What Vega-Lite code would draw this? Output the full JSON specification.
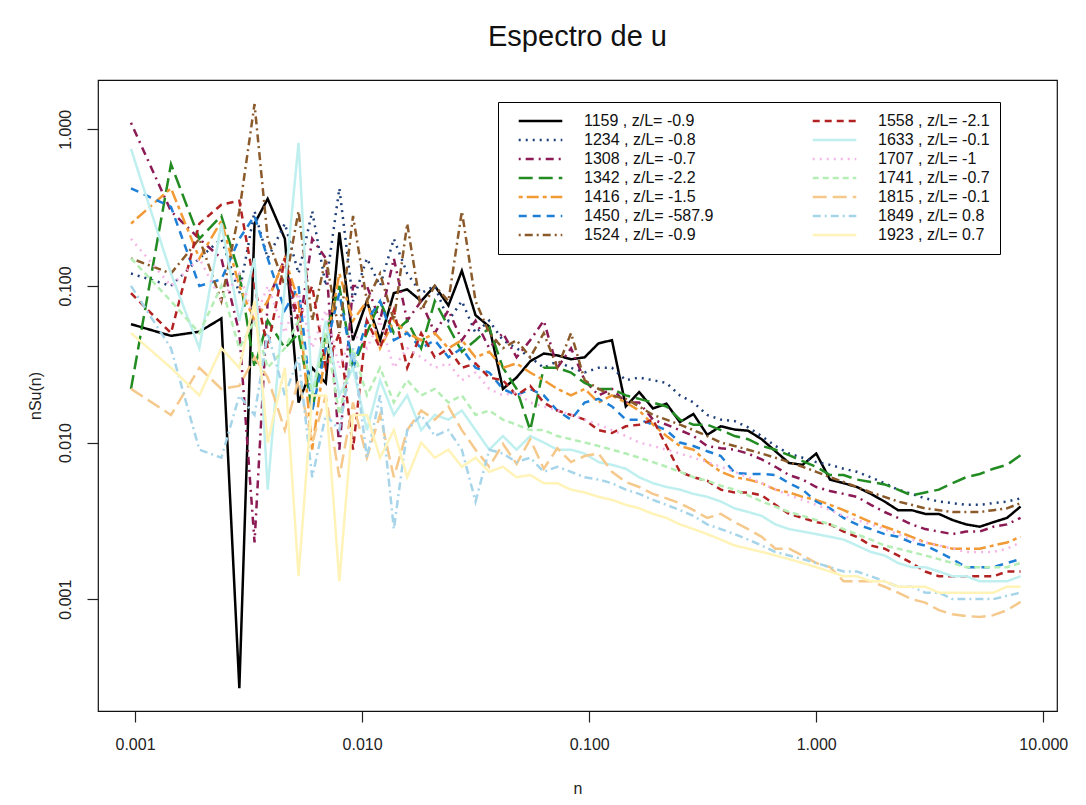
{
"$schema":"https://vega.github.io/schema/vega-lite/v6.json",
"width":959,"height":631,
"autosize":{"type":"none"},
"padding":{"left":98,"top":80,"right":29,"bottom":94},
"background":"white",
"title":{"text":"Espectro de u","fontSize":29,"fontWeight":"normal","font":"Liberation Sans","color":"#111","offset":28,"anchor":"middle"},
"datasets":{"labs":[
{"s":"1159","lab":"1159 , z/L= -0.9"},{"s":"1234","lab":"1234 , z/L= -0.8"},{"s":"1308","lab":"1308 , z/L= -0.7"},{"s":"1342","lab":"1342 , z/L= -2.2"},{"s":"1416","lab":"1416 , z/L= -1.5"},{"s":"1450","lab":"1450 , z/L= -587.9"},{"s":"1524","lab":"1524 , z/L= -0.9"},{"s":"1558","lab":"1558 , z/L= -2.1"},{"s":"1633","lab":"1633 , z/L= -0.1"},{"s":"1707","lab":"1707 , z/L= -1"},{"s":"1741","lab":"1741 , z/L= -0.7"},{"s":"1815","lab":"1815 , z/L= -0.1"},{"s":"1849","lab":"1849 , z/L= 0.8"},{"s":"1923","lab":"1923 , z/L= 0.7"}
]},
"data":{"values":[
{"s":"1159","n":0.00096,"v":0.057},{"s":"1159","n":0.00144,"v":0.048},{"s":"1159","n":0.00192,"v":0.051},{"s":"1159","n":0.0024,"v":0.062},{"s":"1159","n":0.00288,"v":0.00027},{"s":"1159","n":0.00336,"v":0.25},{"s":"1159","n":0.00384,"v":0.36},{"s":"1159","n":0.00457,"v":0.2},{"s":"1159","n":0.00525,"v":0.018},{"s":"1159","n":0.00603,"v":0.03},{"s":"1159","n":0.00692,"v":0.024},{"s":"1159","n":0.00794,"v":0.22},{"s":"1159","n":0.00912,"v":0.045},{"s":"1159","n":0.0105,"v":0.08},{"s":"1159","n":0.012,"v":0.045},{"s":"1159","n":0.0138,"v":0.09},{"s":"1159","n":0.0158,"v":0.095},{"s":"1159","n":0.0182,"v":0.08},{"s":"1159","n":0.0209,"v":0.1},{"s":"1159","n":0.024,"v":0.075},{"s":"1159","n":0.0275,"v":0.125},{"s":"1159","n":0.0316,"v":0.065},{"s":"1159","n":0.0363,"v":0.055},{"s":"1159","n":0.0417,"v":0.022},{"s":"1159","n":0.0479,"v":0.026},{"s":"1159","n":0.055,"v":0.033},{"s":"1159","n":0.0631,"v":0.037},{"s":"1159","n":0.0724,"v":0.036},{"s":"1159","n":0.0832,"v":0.034},{"s":"1159","n":0.0955,"v":0.035},{"s":"1159","n":0.11,"v":0.043},{"s":"1159","n":0.126,"v":0.045},{"s":"1159","n":0.145,"v":0.017},{"s":"1159","n":0.166,"v":0.021},{"s":"1159","n":0.191,"v":0.0165},{"s":"1159","n":0.219,"v":0.0177},{"s":"1159","n":0.251,"v":0.0135},{"s":"1159","n":0.288,"v":0.0152},{"s":"1159","n":0.331,"v":0.0112},{"s":"1159","n":0.38,"v":0.0127},{"s":"1159","n":0.437,"v":0.0121},{"s":"1159","n":0.501,"v":0.0119},{"s":"1159","n":0.575,"v":0.0105},{"s":"1159","n":0.661,"v":0.0088},{"s":"1159","n":0.759,"v":0.0074},{"s":"1159","n":0.871,"v":0.0072},{"s":"1159","n":1,"v":0.0085},{"s":"1159","n":1.15,"v":0.0058},{"s":"1159","n":1.32,"v":0.0055},{"s":"1159","n":1.51,"v":0.0052},{"s":"1159","n":1.74,"v":0.0047},{"s":"1159","n":2,"v":0.0042},{"s":"1159","n":2.29,"v":0.0037},{"s":"1159","n":2.63,"v":0.0037},{"s":"1159","n":3.02,"v":0.0035},{"s":"1159","n":3.47,"v":0.0035},{"s":"1159","n":3.98,"v":0.0032},{"s":"1159","n":4.57,"v":0.003},{"s":"1159","n":5.25,"v":0.0029},{"s":"1159","n":6.03,"v":0.0031},{"s":"1159","n":6.92,"v":0.0033},{"s":"1159","n":7.94,"v":0.0039},
{"s":"1234","n":0.00096,"v":0.12},{"s":"1234","n":0.00144,"v":0.1},{"s":"1234","n":0.00192,"v":0.15},{"s":"1234","n":0.0024,"v":0.2},{"s":"1234","n":0.00288,"v":0.09},{"s":"1234","n":0.00336,"v":0.3},{"s":"1234","n":0.00384,"v":0.15},{"s":"1234","n":0.00457,"v":0.25},{"s":"1234","n":0.00525,"v":0.12},{"s":"1234","n":0.00603,"v":0.3},{"s":"1234","n":0.00692,"v":0.1},{"s":"1234","n":0.00794,"v":0.42},{"s":"1234","n":0.00912,"v":0.08},{"s":"1234","n":0.0105,"v":0.15},{"s":"1234","n":0.012,"v":0.1},{"s":"1234","n":0.0138,"v":0.2},{"s":"1234","n":0.0158,"v":0.12},{"s":"1234","n":0.0182,"v":0.09},{"s":"1234","n":0.0209,"v":0.1},{"s":"1234","n":0.024,"v":0.06},{"s":"1234","n":0.0275,"v":0.08},{"s":"1234","n":0.0316,"v":0.05},{"s":"1234","n":0.0363,"v":0.06},{"s":"1234","n":0.0417,"v":0.045},{"s":"1234","n":0.0479,"v":0.04},{"s":"1234","n":0.055,"v":0.035},{"s":"1234","n":0.0631,"v":0.03},{"s":"1234","n":0.0724,"v":0.033},{"s":"1234","n":0.0832,"v":0.03},{"s":"1234","n":0.0955,"v":0.028},{"s":"1234","n":0.11,"v":0.03},{"s":"1234","n":0.126,"v":0.03},{"s":"1234","n":0.145,"v":0.025},{"s":"1234","n":0.166,"v":0.026},{"s":"1234","n":0.191,"v":0.025},{"s":"1234","n":0.219,"v":0.024},{"s":"1234","n":0.251,"v":0.02},{"s":"1234","n":0.288,"v":0.018},{"s":"1234","n":0.331,"v":0.015},{"s":"1234","n":0.38,"v":0.014},{"s":"1234","n":0.437,"v":0.0137},{"s":"1234","n":0.501,"v":0.0125},{"s":"1234","n":0.575,"v":0.011},{"s":"1234","n":0.661,"v":0.0095},{"s":"1234","n":0.759,"v":0.0085},{"s":"1234","n":0.871,"v":0.008},{"s":"1234","n":1,"v":0.0075},{"s":"1234","n":1.15,"v":0.0072},{"s":"1234","n":1.32,"v":0.0068},{"s":"1234","n":1.51,"v":0.0065},{"s":"1234","n":1.74,"v":0.006},{"s":"1234","n":2,"v":0.0055},{"s":"1234","n":2.29,"v":0.005},{"s":"1234","n":2.63,"v":0.0047},{"s":"1234","n":3.02,"v":0.0044},{"s":"1234","n":3.47,"v":0.0042},{"s":"1234","n":3.98,"v":0.0041},{"s":"1234","n":4.57,"v":0.004},{"s":"1234","n":5.25,"v":0.004},{"s":"1234","n":6.03,"v":0.0041},{"s":"1234","n":6.92,"v":0.0042},{"s":"1234","n":7.94,"v":0.0044},
{"s":"1308","n":0.00096,"v":1.1},{"s":"1308","n":0.00144,"v":0.3},{"s":"1308","n":0.00192,"v":0.2},{"s":"1308","n":0.0024,"v":0.15},{"s":"1308","n":0.00288,"v":0.05},{"s":"1308","n":0.00336,"v":0.0023},{"s":"1308","n":0.00384,"v":0.08},{"s":"1308","n":0.00457,"v":0.15},{"s":"1308","n":0.00525,"v":0.05},{"s":"1308","n":0.00603,"v":0.2},{"s":"1308","n":0.00692,"v":0.15},{"s":"1308","n":0.00794,"v":0.009},{"s":"1308","n":0.00912,"v":0.1},{"s":"1308","n":0.0105,"v":0.1},{"s":"1308","n":0.012,"v":0.06},{"s":"1308","n":0.0138,"v":0.15},{"s":"1308","n":0.0158,"v":0.06},{"s":"1308","n":0.0182,"v":0.08},{"s":"1308","n":0.0209,"v":0.05},{"s":"1308","n":0.024,"v":0.07},{"s":"1308","n":0.0275,"v":0.045},{"s":"1308","n":0.0316,"v":0.06},{"s":"1308","n":0.0363,"v":0.04},{"s":"1308","n":0.0417,"v":0.05},{"s":"1308","n":0.0479,"v":0.035},{"s":"1308","n":0.055,"v":0.045},{"s":"1308","n":0.0631,"v":0.06},{"s":"1308","n":0.0724,"v":0.03},{"s":"1308","n":0.0832,"v":0.04},{"s":"1308","n":0.0955,"v":0.025},{"s":"1308","n":0.11,"v":0.02},{"s":"1308","n":0.126,"v":0.022},{"s":"1308","n":0.145,"v":0.018},{"s":"1308","n":0.166,"v":0.018},{"s":"1308","n":0.191,"v":0.014},{"s":"1308","n":0.219,"v":0.013},{"s":"1308","n":0.251,"v":0.012},{"s":"1308","n":0.288,"v":0.011},{"s":"1308","n":0.331,"v":0.0095},{"s":"1308","n":0.38,"v":0.0092},{"s":"1308","n":0.437,"v":0.009},{"s":"1308","n":0.501,"v":0.0085},{"s":"1308","n":0.575,"v":0.0078},{"s":"1308","n":0.661,"v":0.007},{"s":"1308","n":0.759,"v":0.0062},{"s":"1308","n":0.871,"v":0.0058},{"s":"1308","n":1,"v":0.0052},{"s":"1308","n":1.15,"v":0.0049},{"s":"1308","n":1.32,"v":0.0047},{"s":"1308","n":1.51,"v":0.0045},{"s":"1308","n":1.74,"v":0.004},{"s":"1308","n":2,"v":0.0036},{"s":"1308","n":2.29,"v":0.0033},{"s":"1308","n":2.63,"v":0.003},{"s":"1308","n":3.02,"v":0.0028},{"s":"1308","n":3.47,"v":0.0027},{"s":"1308","n":3.98,"v":0.0026},{"s":"1308","n":4.57,"v":0.0027},{"s":"1308","n":5.25,"v":0.0027},{"s":"1308","n":6.03,"v":0.0029},{"s":"1308","n":6.92,"v":0.003},{"s":"1308","n":7.94,"v":0.0033},
{"s":"1342","n":0.00096,"v":0.022},{"s":"1342","n":0.00144,"v":0.6},{"s":"1342","n":0.00192,"v":0.2},{"s":"1342","n":0.0024,"v":0.28},{"s":"1342","n":0.00288,"v":0.12},{"s":"1342","n":0.00336,"v":0.03},{"s":"1342","n":0.00384,"v":0.06},{"s":"1342","n":0.00457,"v":0.04},{"s":"1342","n":0.00525,"v":0.05},{"s":"1342","n":0.00603,"v":0.016},{"s":"1342","n":0.00692,"v":0.05},{"s":"1342","n":0.00794,"v":0.1},{"s":"1342","n":0.00912,"v":0.03},{"s":"1342","n":0.0105,"v":0.05},{"s":"1342","n":0.012,"v":0.08},{"s":"1342","n":0.0138,"v":0.05},{"s":"1342","n":0.0158,"v":0.06},{"s":"1342","n":0.0182,"v":0.04},{"s":"1342","n":0.0209,"v":0.08},{"s":"1342","n":0.024,"v":0.055},{"s":"1342","n":0.0275,"v":0.038},{"s":"1342","n":0.0316,"v":0.045},{"s":"1342","n":0.0363,"v":0.054},{"s":"1342","n":0.0417,"v":0.03},{"s":"1342","n":0.0479,"v":0.022},{"s":"1342","n":0.055,"v":0.012},{"s":"1342","n":0.0631,"v":0.03},{"s":"1342","n":0.0724,"v":0.03},{"s":"1342","n":0.0832,"v":0.028},{"s":"1342","n":0.0955,"v":0.024},{"s":"1342","n":0.11,"v":0.022},{"s":"1342","n":0.126,"v":0.022},{"s":"1342","n":0.145,"v":0.02},{"s":"1342","n":0.166,"v":0.019},{"s":"1342","n":0.191,"v":0.018},{"s":"1342","n":0.219,"v":0.017},{"s":"1342","n":0.251,"v":0.014},{"s":"1342","n":0.288,"v":0.013},{"s":"1342","n":0.331,"v":0.013},{"s":"1342","n":0.38,"v":0.012},{"s":"1342","n":0.437,"v":0.011},{"s":"1342","n":0.501,"v":0.0105},{"s":"1342","n":0.575,"v":0.0095},{"s":"1342","n":0.661,"v":0.009},{"s":"1342","n":0.759,"v":0.0083},{"s":"1342","n":0.871,"v":0.0076},{"s":"1342","n":1,"v":0.007},{"s":"1342","n":1.15,"v":0.0062},{"s":"1342","n":1.32,"v":0.0062},{"s":"1342","n":1.51,"v":0.0058},{"s":"1342","n":1.74,"v":0.0056},{"s":"1342","n":2,"v":0.0054},{"s":"1342","n":2.29,"v":0.005},{"s":"1342","n":2.63,"v":0.0046},{"s":"1342","n":3.02,"v":0.0048},{"s":"1342","n":3.47,"v":0.005},{"s":"1342","n":3.98,"v":0.0055},{"s":"1342","n":4.57,"v":0.006},{"s":"1342","n":5.25,"v":0.0063},{"s":"1342","n":6.03,"v":0.0068},{"s":"1342","n":6.92,"v":0.0072},{"s":"1342","n":7.94,"v":0.0083},
{"s":"1416","n":0.00096,"v":0.25},{"s":"1416","n":0.00144,"v":0.42},{"s":"1416","n":0.00192,"v":0.15},{"s":"1416","n":0.0024,"v":0.26},{"s":"1416","n":0.00288,"v":0.1},{"s":"1416","n":0.00336,"v":0.06},{"s":"1416","n":0.00384,"v":0.08},{"s":"1416","n":0.00457,"v":0.15},{"s":"1416","n":0.00525,"v":0.08},{"s":"1416","n":0.00603,"v":0.009},{"s":"1416","n":0.00692,"v":0.04},{"s":"1416","n":0.00794,"v":0.12},{"s":"1416","n":0.00912,"v":0.06},{"s":"1416","n":0.0105,"v":0.08},{"s":"1416","n":0.012,"v":0.04},{"s":"1416","n":0.0138,"v":0.06},{"s":"1416","n":0.0158,"v":0.05},{"s":"1416","n":0.0182,"v":0.045},{"s":"1416","n":0.0209,"v":0.05},{"s":"1416","n":0.024,"v":0.04},{"s":"1416","n":0.0275,"v":0.045},{"s":"1416","n":0.0316,"v":0.035},{"s":"1416","n":0.0363,"v":0.038},{"s":"1416","n":0.0417,"v":0.03},{"s":"1416","n":0.0479,"v":0.032},{"s":"1416","n":0.055,"v":0.028},{"s":"1416","n":0.0631,"v":0.025},{"s":"1416","n":0.0724,"v":0.022},{"s":"1416","n":0.0832,"v":0.02},{"s":"1416","n":0.0955,"v":0.022},{"s":"1416","n":0.11,"v":0.018},{"s":"1416","n":0.126,"v":0.02},{"s":"1416","n":0.145,"v":0.018},{"s":"1416","n":0.166,"v":0.016},{"s":"1416","n":0.191,"v":0.013},{"s":"1416","n":0.219,"v":0.011},{"s":"1416","n":0.251,"v":0.0095},{"s":"1416","n":0.288,"v":0.009},{"s":"1416","n":0.331,"v":0.0075},{"s":"1416","n":0.38,"v":0.0065},{"s":"1416","n":0.437,"v":0.006},{"s":"1416","n":0.501,"v":0.0058},{"s":"1416","n":0.575,"v":0.0055},{"s":"1416","n":0.661,"v":0.005},{"s":"1416","n":0.759,"v":0.0048},{"s":"1416","n":0.871,"v":0.0045},{"s":"1416","n":1,"v":0.0043},{"s":"1416","n":1.15,"v":0.004},{"s":"1416","n":1.32,"v":0.0037},{"s":"1416","n":1.51,"v":0.0034},{"s":"1416","n":1.74,"v":0.0031},{"s":"1416","n":2,"v":0.0029},{"s":"1416","n":2.29,"v":0.0027},{"s":"1416","n":2.63,"v":0.0025},{"s":"1416","n":3.02,"v":0.0023},{"s":"1416","n":3.47,"v":0.0022},{"s":"1416","n":3.98,"v":0.0021},{"s":"1416","n":4.57,"v":0.0021},{"s":"1416","n":5.25,"v":0.0021},{"s":"1416","n":6.03,"v":0.0022},{"s":"1416","n":6.92,"v":0.0023},{"s":"1416","n":7.94,"v":0.0025},
{"s":"1450","n":0.00096,"v":0.42},{"s":"1450","n":0.00144,"v":0.32},{"s":"1450","n":0.00192,"v":0.1},{"s":"1450","n":0.0024,"v":0.11},{"s":"1450","n":0.00288,"v":0.2},{"s":"1450","n":0.00336,"v":0.28},{"s":"1450","n":0.00384,"v":0.15},{"s":"1450","n":0.00457,"v":0.07},{"s":"1450","n":0.00525,"v":0.1},{"s":"1450","n":0.00603,"v":0.016},{"s":"1450","n":0.00692,"v":0.04},{"s":"1450","n":0.00794,"v":0.09},{"s":"1450","n":0.00912,"v":0.03},{"s":"1450","n":0.0105,"v":0.06},{"s":"1450","n":0.012,"v":0.08},{"s":"1450","n":0.0138,"v":0.045},{"s":"1450","n":0.0158,"v":0.05},{"s":"1450","n":0.0182,"v":0.04},{"s":"1450","n":0.0209,"v":0.045},{"s":"1450","n":0.024,"v":0.035},{"s":"1450","n":0.0275,"v":0.04},{"s":"1450","n":0.0316,"v":0.03},{"s":"1450","n":0.0363,"v":0.028},{"s":"1450","n":0.0417,"v":0.022},{"s":"1450","n":0.0479,"v":0.02},{"s":"1450","n":0.055,"v":0.022},{"s":"1450","n":0.0631,"v":0.02},{"s":"1450","n":0.0724,"v":0.016},{"s":"1450","n":0.0832,"v":0.014},{"s":"1450","n":0.0955,"v":0.018},{"s":"1450","n":0.11,"v":0.019},{"s":"1450","n":0.126,"v":0.017},{"s":"1450","n":0.145,"v":0.014},{"s":"1450","n":0.166,"v":0.014},{"s":"1450","n":0.191,"v":0.013},{"s":"1450","n":0.219,"v":0.012},{"s":"1450","n":0.251,"v":0.01},{"s":"1450","n":0.288,"v":0.0095},{"s":"1450","n":0.331,"v":0.0088},{"s":"1450","n":0.38,"v":0.0082},{"s":"1450","n":0.437,"v":0.0064},{"s":"1450","n":0.501,"v":0.0063},{"s":"1450","n":0.575,"v":0.0063},{"s":"1450","n":0.661,"v":0.0062},{"s":"1450","n":0.759,"v":0.0055},{"s":"1450","n":0.871,"v":0.005},{"s":"1450","n":1,"v":0.0042},{"s":"1450","n":1.15,"v":0.0038},{"s":"1450","n":1.32,"v":0.0033},{"s":"1450","n":1.51,"v":0.003},{"s":"1450","n":1.74,"v":0.0028},{"s":"1450","n":2,"v":0.0026},{"s":"1450","n":2.29,"v":0.0025},{"s":"1450","n":2.63,"v":0.0023},{"s":"1450","n":3.02,"v":0.0022},{"s":"1450","n":3.47,"v":0.002},{"s":"1450","n":3.98,"v":0.0018},{"s":"1450","n":4.57,"v":0.0016},{"s":"1450","n":5.25,"v":0.0016},{"s":"1450","n":6.03,"v":0.0016},{"s":"1450","n":6.92,"v":0.0017},{"s":"1450","n":7.94,"v":0.0018},
{"s":"1524","n":0.00096,"v":0.15},{"s":"1524","n":0.00144,"v":0.12},{"s":"1524","n":0.00192,"v":0.2},{"s":"1524","n":0.0024,"v":0.08},{"s":"1524","n":0.00288,"v":0.3},{"s":"1524","n":0.00336,"v":1.45},{"s":"1524","n":0.00384,"v":0.2},{"s":"1524","n":0.00457,"v":0.1},{"s":"1524","n":0.00525,"v":0.3},{"s":"1524","n":0.00603,"v":0.06},{"s":"1524","n":0.00692,"v":0.15},{"s":"1524","n":0.00794,"v":0.05},{"s":"1524","n":0.00912,"v":0.28},{"s":"1524","n":0.0105,"v":0.08},{"s":"1524","n":0.012,"v":0.12},{"s":"1524","n":0.0138,"v":0.06},{"s":"1524","n":0.0158,"v":0.25},{"s":"1524","n":0.0182,"v":0.07},{"s":"1524","n":0.0209,"v":0.1},{"s":"1524","n":0.024,"v":0.08},{"s":"1524","n":0.0275,"v":0.3},{"s":"1524","n":0.0316,"v":0.08},{"s":"1524","n":0.0363,"v":0.05},{"s":"1524","n":0.0417,"v":0.04},{"s":"1524","n":0.0479,"v":0.045},{"s":"1524","n":0.055,"v":0.035},{"s":"1524","n":0.0631,"v":0.05},{"s":"1524","n":0.0724,"v":0.03},{"s":"1524","n":0.0832,"v":0.05},{"s":"1524","n":0.0955,"v":0.025},{"s":"1524","n":0.11,"v":0.022},{"s":"1524","n":0.126,"v":0.02},{"s":"1524","n":0.145,"v":0.019},{"s":"1524","n":0.166,"v":0.017},{"s":"1524","n":0.191,"v":0.015},{"s":"1524","n":0.219,"v":0.014},{"s":"1524","n":0.251,"v":0.013},{"s":"1524","n":0.288,"v":0.012},{"s":"1524","n":0.331,"v":0.011},{"s":"1524","n":0.38,"v":0.01},{"s":"1524","n":0.437,"v":0.0095},{"s":"1524","n":0.501,"v":0.009},{"s":"1524","n":0.575,"v":0.0085},{"s":"1524","n":0.661,"v":0.008},{"s":"1524","n":0.759,"v":0.0075},{"s":"1524","n":0.871,"v":0.007},{"s":"1524","n":1,"v":0.0065},{"s":"1524","n":1.15,"v":0.006},{"s":"1524","n":1.32,"v":0.0056},{"s":"1524","n":1.51,"v":0.0052},{"s":"1524","n":1.74,"v":0.0048},{"s":"1524","n":2,"v":0.0045},{"s":"1524","n":2.29,"v":0.0042},{"s":"1524","n":2.63,"v":0.004},{"s":"1524","n":3.02,"v":0.0038},{"s":"1524","n":3.47,"v":0.0037},{"s":"1524","n":3.98,"v":0.0036},{"s":"1524","n":4.57,"v":0.0036},{"s":"1524","n":5.25,"v":0.0036},{"s":"1524","n":6.03,"v":0.0037},{"s":"1524","n":6.92,"v":0.0038},{"s":"1524","n":7.94,"v":0.0041},
{"s":"1558","n":0.00096,"v":0.09},{"s":"1558","n":0.00144,"v":0.05},{"s":"1558","n":0.00192,"v":0.25},{"s":"1558","n":0.0024,"v":0.33},{"s":"1558","n":0.00288,"v":0.35},{"s":"1558","n":0.00336,"v":0.1},{"s":"1558","n":0.00384,"v":0.04},{"s":"1558","n":0.00457,"v":0.15},{"s":"1558","n":0.00525,"v":0.06},{"s":"1558","n":0.00603,"v":0.1},{"s":"1558","n":0.00692,"v":0.03},{"s":"1558","n":0.00794,"v":0.05},{"s":"1558","n":0.00912,"v":0.009},{"s":"1558","n":0.0105,"v":0.06},{"s":"1558","n":0.012,"v":0.04},{"s":"1558","n":0.0138,"v":0.07},{"s":"1558","n":0.0158,"v":0.03},{"s":"1558","n":0.0182,"v":0.05},{"s":"1558","n":0.0209,"v":0.035},{"s":"1558","n":0.024,"v":0.04},{"s":"1558","n":0.0275,"v":0.03},{"s":"1558","n":0.0316,"v":0.032},{"s":"1558","n":0.0363,"v":0.026},{"s":"1558","n":0.0417,"v":0.025},{"s":"1558","n":0.0479,"v":0.02},{"s":"1558","n":0.055,"v":0.023},{"s":"1558","n":0.0631,"v":0.018},{"s":"1558","n":0.0724,"v":0.016},{"s":"1558","n":0.0832,"v":0.015},{"s":"1558","n":0.0955,"v":0.014},{"s":"1558","n":0.11,"v":0.012},{"s":"1558","n":0.126,"v":0.0115},{"s":"1558","n":0.145,"v":0.0127},{"s":"1558","n":0.166,"v":0.013},{"s":"1558","n":0.191,"v":0.014},{"s":"1558","n":0.219,"v":0.0095},{"s":"1558","n":0.251,"v":0.0065},{"s":"1558","n":0.288,"v":0.006},{"s":"1558","n":0.331,"v":0.0057},{"s":"1558","n":0.38,"v":0.005},{"s":"1558","n":0.437,"v":0.0048},{"s":"1558","n":0.501,"v":0.0048},{"s":"1558","n":0.575,"v":0.0046},{"s":"1558","n":0.661,"v":0.004},{"s":"1558","n":0.759,"v":0.0035},{"s":"1558","n":0.871,"v":0.0033},{"s":"1558","n":1,"v":0.0031},{"s":"1558","n":1.15,"v":0.003},{"s":"1558","n":1.32,"v":0.0027},{"s":"1558","n":1.51,"v":0.0025},{"s":"1558","n":1.74,"v":0.0022},{"s":"1558","n":2,"v":0.0021},{"s":"1558","n":2.29,"v":0.0019},{"s":"1558","n":2.63,"v":0.0017},{"s":"1558","n":3.02,"v":0.0015},{"s":"1558","n":3.47,"v":0.0014},{"s":"1558","n":3.98,"v":0.0014},{"s":"1558","n":4.57,"v":0.0014},{"s":"1558","n":5.25,"v":0.0014},{"s":"1558","n":6.03,"v":0.0014},{"s":"1558","n":6.92,"v":0.0015},{"s":"1558","n":7.94,"v":0.0015},
{"s":"1633","n":0.00096,"v":0.75},{"s":"1633","n":0.00144,"v":0.12},{"s":"1633","n":0.00192,"v":0.04},{"s":"1633","n":0.0024,"v":0.25},{"s":"1633","n":0.00288,"v":0.06},{"s":"1633","n":0.00336,"v":0.15},{"s":"1633","n":0.00384,"v":0.005},{"s":"1633","n":0.00457,"v":0.1},{"s":"1633","n":0.00525,"v":0.82},{"s":"1633","n":0.00603,"v":0.02},{"s":"1633","n":0.00692,"v":0.06},{"s":"1633","n":0.00794,"v":0.02},{"s":"1633","n":0.00912,"v":0.03},{"s":"1633","n":0.0105,"v":0.012},{"s":"1633","n":0.012,"v":0.025},{"s":"1633","n":0.0138,"v":0.015},{"s":"1633","n":0.0158,"v":0.02},{"s":"1633","n":0.0182,"v":0.012},{"s":"1633","n":0.0209,"v":0.015},{"s":"1633","n":0.024,"v":0.014},{"s":"1633","n":0.0275,"v":0.016},{"s":"1633","n":0.0316,"v":0.012},{"s":"1633","n":0.0363,"v":0.009},{"s":"1633","n":0.0417,"v":0.011},{"s":"1633","n":0.0479,"v":0.009},{"s":"1633","n":0.055,"v":0.011},{"s":"1633","n":0.0631,"v":0.01},{"s":"1633","n":0.0724,"v":0.009},{"s":"1633","n":0.0832,"v":0.009},{"s":"1633","n":0.0955,"v":0.0085},{"s":"1633","n":0.11,"v":0.0075},{"s":"1633","n":0.126,"v":0.0072},{"s":"1633","n":0.145,"v":0.0068},{"s":"1633","n":0.166,"v":0.006},{"s":"1633","n":0.191,"v":0.0055},{"s":"1633","n":0.219,"v":0.0052},{"s":"1633","n":0.251,"v":0.005},{"s":"1633","n":0.288,"v":0.0047},{"s":"1633","n":0.331,"v":0.0045},{"s":"1633","n":0.38,"v":0.0042},{"s":"1633","n":0.437,"v":0.0038},{"s":"1633","n":0.501,"v":0.0036},{"s":"1633","n":0.575,"v":0.0034},{"s":"1633","n":0.661,"v":0.003},{"s":"1633","n":0.759,"v":0.0028},{"s":"1633","n":0.871,"v":0.0027},{"s":"1633","n":1,"v":0.0026},{"s":"1633","n":1.15,"v":0.0025},{"s":"1633","n":1.32,"v":0.0024},{"s":"1633","n":1.51,"v":0.0022},{"s":"1633","n":1.74,"v":0.002},{"s":"1633","n":2,"v":0.0019},{"s":"1633","n":2.29,"v":0.0017},{"s":"1633","n":2.63,"v":0.0016},{"s":"1633","n":3.02,"v":0.0016},{"s":"1633","n":3.47,"v":0.0015},{"s":"1633","n":3.98,"v":0.0014},{"s":"1633","n":4.57,"v":0.0014},{"s":"1633","n":5.25,"v":0.0013},{"s":"1633","n":6.03,"v":0.0013},{"s":"1633","n":6.92,"v":0.0013},{"s":"1633","n":7.94,"v":0.0014},
{"s":"1707","n":0.00096,"v":0.2},{"s":"1707","n":0.00144,"v":0.1},{"s":"1707","n":0.00192,"v":0.15},{"s":"1707","n":0.0024,"v":0.08},{"s":"1707","n":0.00288,"v":0.12},{"s":"1707","n":0.00336,"v":0.06},{"s":"1707","n":0.00384,"v":0.1},{"s":"1707","n":0.00457,"v":0.05},{"s":"1707","n":0.00525,"v":0.09},{"s":"1707","n":0.00603,"v":0.04},{"s":"1707","n":0.00692,"v":0.07},{"s":"1707","n":0.00794,"v":0.03},{"s":"1707","n":0.00912,"v":0.05},{"s":"1707","n":0.0105,"v":0.04},{"s":"1707","n":0.012,"v":0.06},{"s":"1707","n":0.0138,"v":0.03},{"s":"1707","n":0.0158,"v":0.04},{"s":"1707","n":0.0182,"v":0.035},{"s":"1707","n":0.0209,"v":0.03},{"s":"1707","n":0.024,"v":0.032},{"s":"1707","n":0.0275,"v":0.025},{"s":"1707","n":0.0316,"v":0.028},{"s":"1707","n":0.0363,"v":0.022},{"s":"1707","n":0.0417,"v":0.02},{"s":"1707","n":0.0479,"v":0.021},{"s":"1707","n":0.055,"v":0.018},{"s":"1707","n":0.0631,"v":0.017},{"s":"1707","n":0.0724,"v":0.016},{"s":"1707","n":0.0832,"v":0.015},{"s":"1707","n":0.0955,"v":0.014},{"s":"1707","n":0.11,"v":0.013},{"s":"1707","n":0.126,"v":0.012},{"s":"1707","n":0.145,"v":0.011},{"s":"1707","n":0.166,"v":0.01},{"s":"1707","n":0.191,"v":0.0095},{"s":"1707","n":0.219,"v":0.009},{"s":"1707","n":0.251,"v":0.0085},{"s":"1707","n":0.288,"v":0.008},{"s":"1707","n":0.331,"v":0.0075},{"s":"1707","n":0.38,"v":0.007},{"s":"1707","n":0.437,"v":0.0065},{"s":"1707","n":0.501,"v":0.006},{"s":"1707","n":0.575,"v":0.0055},{"s":"1707","n":0.661,"v":0.005},{"s":"1707","n":0.759,"v":0.0046},{"s":"1707","n":0.871,"v":0.0043},{"s":"1707","n":1,"v":0.004},{"s":"1707","n":1.15,"v":0.0037},{"s":"1707","n":1.32,"v":0.0034},{"s":"1707","n":1.51,"v":0.0032},{"s":"1707","n":1.74,"v":0.003},{"s":"1707","n":2,"v":0.0028},{"s":"1707","n":2.29,"v":0.0026},{"s":"1707","n":2.63,"v":0.0024},{"s":"1707","n":3.02,"v":0.0023},{"s":"1707","n":3.47,"v":0.0022},{"s":"1707","n":3.98,"v":0.0021},{"s":"1707","n":4.57,"v":0.002},{"s":"1707","n":5.25,"v":0.002},{"s":"1707","n":6.03,"v":0.002},{"s":"1707","n":6.92,"v":0.0021},{"s":"1707","n":7.94,"v":0.0023},
{"s":"1741","n":0.00096,"v":0.15},{"s":"1741","n":0.00144,"v":0.08},{"s":"1741","n":0.00192,"v":0.05},{"s":"1741","n":0.0024,"v":0.1},{"s":"1741","n":0.00288,"v":0.04},{"s":"1741","n":0.00336,"v":0.06},{"s":"1741","n":0.00384,"v":0.03},{"s":"1741","n":0.00457,"v":0.04},{"s":"1741","n":0.00525,"v":0.06},{"s":"1741","n":0.00603,"v":0.02},{"s":"1741","n":0.00692,"v":0.05},{"s":"1741","n":0.00794,"v":0.015},{"s":"1741","n":0.00912,"v":0.04},{"s":"1741","n":0.0105,"v":0.02},{"s":"1741","n":0.012,"v":0.03},{"s":"1741","n":0.0138,"v":0.018},{"s":"1741","n":0.0158,"v":0.025},{"s":"1741","n":0.0182,"v":0.02},{"s":"1741","n":0.0209,"v":0.022},{"s":"1741","n":0.024,"v":0.018},{"s":"1741","n":0.0275,"v":0.02},{"s":"1741","n":0.0316,"v":0.015},{"s":"1741","n":0.0363,"v":0.016},{"s":"1741","n":0.0417,"v":0.014},{"s":"1741","n":0.0479,"v":0.013},{"s":"1741","n":0.055,"v":0.012},{"s":"1741","n":0.0631,"v":0.012},{"s":"1741","n":0.0724,"v":0.011},{"s":"1741","n":0.0832,"v":0.0105},{"s":"1741","n":0.0955,"v":0.01},{"s":"1741","n":0.11,"v":0.0095},{"s":"1741","n":0.126,"v":0.009},{"s":"1741","n":0.145,"v":0.0085},{"s":"1741","n":0.166,"v":0.008},{"s":"1741","n":0.191,"v":0.0075},{"s":"1741","n":0.219,"v":0.007},{"s":"1741","n":0.251,"v":0.0065},{"s":"1741","n":0.288,"v":0.006},{"s":"1741","n":0.331,"v":0.0057},{"s":"1741","n":0.38,"v":0.0053},{"s":"1741","n":0.437,"v":0.005},{"s":"1741","n":0.501,"v":0.0046},{"s":"1741","n":0.575,"v":0.0042},{"s":"1741","n":0.661,"v":0.0039},{"s":"1741","n":0.759,"v":0.0036},{"s":"1741","n":0.871,"v":0.0034},{"s":"1741","n":1,"v":0.0032},{"s":"1741","n":1.15,"v":0.003},{"s":"1741","n":1.32,"v":0.0028},{"s":"1741","n":1.51,"v":0.0026},{"s":"1741","n":1.74,"v":0.0024},{"s":"1741","n":2,"v":0.0022},{"s":"1741","n":2.29,"v":0.0021},{"s":"1741","n":2.63,"v":0.002},{"s":"1741","n":3.02,"v":0.0019},{"s":"1741","n":3.47,"v":0.0018},{"s":"1741","n":3.98,"v":0.0017},{"s":"1741","n":4.57,"v":0.0016},{"s":"1741","n":5.25,"v":0.0016},{"s":"1741","n":6.03,"v":0.0016},{"s":"1741","n":6.92,"v":0.0016},{"s":"1741","n":7.94,"v":0.0017},
{"s":"1815","n":0.00096,"v":0.022},{"s":"1815","n":0.00144,"v":0.015},{"s":"1815","n":0.00192,"v":0.03},{"s":"1815","n":0.0024,"v":0.022},{"s":"1815","n":0.00288,"v":0.023},{"s":"1815","n":0.00336,"v":0.035},{"s":"1815","n":0.00384,"v":0.026},{"s":"1815","n":0.00457,"v":0.012},{"s":"1815","n":0.00525,"v":0.025},{"s":"1815","n":0.00603,"v":0.01},{"s":"1815","n":0.00692,"v":0.02},{"s":"1815","n":0.00794,"v":0.006},{"s":"1815","n":0.00912,"v":0.018},{"s":"1815","n":0.0105,"v":0.008},{"s":"1815","n":0.012,"v":0.015},{"s":"1815","n":0.0138,"v":0.006},{"s":"1815","n":0.0158,"v":0.012},{"s":"1815","n":0.0182,"v":0.016},{"s":"1815","n":0.0209,"v":0.014},{"s":"1815","n":0.024,"v":0.017},{"s":"1815","n":0.0275,"v":0.012},{"s":"1815","n":0.0316,"v":0.009},{"s":"1815","n":0.0363,"v":0.007},{"s":"1815","n":0.0417,"v":0.0098},{"s":"1815","n":0.0479,"v":0.0073},{"s":"1815","n":0.055,"v":0.0105},{"s":"1815","n":0.0631,"v":0.0068},{"s":"1815","n":0.0724,"v":0.0092},{"s":"1815","n":0.0832,"v":0.0075},{"s":"1815","n":0.0955,"v":0.0082},{"s":"1815","n":0.11,"v":0.0085},{"s":"1815","n":0.126,"v":0.0065},{"s":"1815","n":0.145,"v":0.0056},{"s":"1815","n":0.166,"v":0.0052},{"s":"1815","n":0.191,"v":0.0047},{"s":"1815","n":0.219,"v":0.0044},{"s":"1815","n":0.251,"v":0.0041},{"s":"1815","n":0.288,"v":0.0037},{"s":"1815","n":0.331,"v":0.0033},{"s":"1815","n":0.38,"v":0.0035},{"s":"1815","n":0.437,"v":0.0031},{"s":"1815","n":0.501,"v":0.0028},{"s":"1815","n":0.575,"v":0.0025},{"s":"1815","n":0.661,"v":0.0021},{"s":"1815","n":0.759,"v":0.0021},{"s":"1815","n":0.871,"v":0.0019},{"s":"1815","n":1,"v":0.0017},{"s":"1815","n":1.15,"v":0.0016},{"s":"1815","n":1.32,"v":0.0013},{"s":"1815","n":1.51,"v":0.0013},{"s":"1815","n":1.74,"v":0.0013},{"s":"1815","n":2,"v":0.0012},{"s":"1815","n":2.29,"v":0.0011},{"s":"1815","n":2.63,"v":0.001},{"s":"1815","n":3.02,"v":0.00095},{"s":"1815","n":3.47,"v":0.00085},{"s":"1815","n":3.98,"v":0.0008},{"s":"1815","n":4.57,"v":0.00078},{"s":"1815","n":5.25,"v":0.00077},{"s":"1815","n":6.03,"v":0.00079},{"s":"1815","n":6.92,"v":0.00085},{"s":"1815","n":7.94,"v":0.00096},
{"s":"1849","n":0.00096,"v":0.1},{"s":"1849","n":0.00144,"v":0.04},{"s":"1849","n":0.00192,"v":0.009},{"s":"1849","n":0.0024,"v":0.008},{"s":"1849","n":0.00288,"v":0.02},{"s":"1849","n":0.00336,"v":0.015},{"s":"1849","n":0.00384,"v":0.05},{"s":"1849","n":0.00457,"v":0.02},{"s":"1849","n":0.00525,"v":0.035},{"s":"1849","n":0.00603,"v":0.006},{"s":"1849","n":0.00692,"v":0.015},{"s":"1849","n":0.00794,"v":0.012},{"s":"1849","n":0.00912,"v":0.04},{"s":"1849","n":0.0105,"v":0.008},{"s":"1849","n":0.012,"v":0.02},{"s":"1849","n":0.0138,"v":0.0028},{"s":"1849","n":0.0158,"v":0.012},{"s":"1849","n":0.0182,"v":0.015},{"s":"1849","n":0.0209,"v":0.011},{"s":"1849","n":0.024,"v":0.012},{"s":"1849","n":0.0275,"v":0.009},{"s":"1849","n":0.0316,"v":0.0042},{"s":"1849","n":0.0363,"v":0.009},{"s":"1849","n":0.0417,"v":0.0085},{"s":"1849","n":0.0479,"v":0.0075},{"s":"1849","n":0.055,"v":0.008},{"s":"1849","n":0.0631,"v":0.0065},{"s":"1849","n":0.0724,"v":0.007},{"s":"1849","n":0.0832,"v":0.0065},{"s":"1849","n":0.0955,"v":0.006},{"s":"1849","n":0.11,"v":0.0058},{"s":"1849","n":0.126,"v":0.0055},{"s":"1849","n":0.145,"v":0.005},{"s":"1849","n":0.166,"v":0.0047},{"s":"1849","n":0.191,"v":0.0043},{"s":"1849","n":0.219,"v":0.004},{"s":"1849","n":0.251,"v":0.0037},{"s":"1849","n":0.288,"v":0.0034},{"s":"1849","n":0.331,"v":0.003},{"s":"1849","n":0.38,"v":0.0028},{"s":"1849","n":0.437,"v":0.0026},{"s":"1849","n":0.501,"v":0.0024},{"s":"1849","n":0.575,"v":0.0022},{"s":"1849","n":0.661,"v":0.002},{"s":"1849","n":0.759,"v":0.0019},{"s":"1849","n":0.871,"v":0.0018},{"s":"1849","n":1,"v":0.0017},{"s":"1849","n":1.15,"v":0.0016},{"s":"1849","n":1.32,"v":0.0015},{"s":"1849","n":1.51,"v":0.0015},{"s":"1849","n":1.74,"v":0.0014},{"s":"1849","n":2,"v":0.0013},{"s":"1849","n":2.29,"v":0.0012},{"s":"1849","n":2.63,"v":0.0012},{"s":"1849","n":3.02,"v":0.0011},{"s":"1849","n":3.47,"v":0.0011},{"s":"1849","n":3.98,"v":0.001},{"s":"1849","n":4.57,"v":0.001},{"s":"1849","n":5.25,"v":0.001},{"s":"1849","n":6.03,"v":0.001},{"s":"1849","n":6.92,"v":0.00105},{"s":"1849","n":7.94,"v":0.0011},
{"s":"1923","n":0.00096,"v":0.05},{"s":"1923","n":0.00144,"v":0.03},{"s":"1923","n":0.00192,"v":0.02},{"s":"1923","n":0.0024,"v":0.04},{"s":"1923","n":0.00288,"v":0.03},{"s":"1923","n":0.00336,"v":0.08},{"s":"1923","n":0.00384,"v":0.01},{"s":"1923","n":0.00457,"v":0.03},{"s":"1923","n":0.00525,"v":0.0014},{"s":"1923","n":0.00603,"v":0.02},{"s":"1923","n":0.00692,"v":0.02},{"s":"1923","n":0.00794,"v":0.0013},{"s":"1923","n":0.00912,"v":0.015},{"s":"1923","n":0.0105,"v":0.015},{"s":"1923","n":0.012,"v":0.008},{"s":"1923","n":0.0138,"v":0.012},{"s":"1923","n":0.0158,"v":0.006},{"s":"1923","n":0.0182,"v":0.01},{"s":"1923","n":0.0209,"v":0.008},{"s":"1923","n":0.024,"v":0.009},{"s":"1923","n":0.0275,"v":0.007},{"s":"1923","n":0.0316,"v":0.008},{"s":"1923","n":0.0363,"v":0.0065},{"s":"1923","n":0.0417,"v":0.007},{"s":"1923","n":0.0479,"v":0.006},{"s":"1923","n":0.055,"v":0.0062},{"s":"1923","n":0.0631,"v":0.0055},{"s":"1923","n":0.0724,"v":0.0055},{"s":"1923","n":0.0832,"v":0.005},{"s":"1923","n":0.0955,"v":0.0048},{"s":"1923","n":0.11,"v":0.0045},{"s":"1923","n":0.126,"v":0.0043},{"s":"1923","n":0.145,"v":0.004},{"s":"1923","n":0.166,"v":0.0038},{"s":"1923","n":0.191,"v":0.0035},{"s":"1923","n":0.219,"v":0.0033},{"s":"1923","n":0.251,"v":0.003},{"s":"1923","n":0.288,"v":0.0028},{"s":"1923","n":0.331,"v":0.0026},{"s":"1923","n":0.38,"v":0.0024},{"s":"1923","n":0.437,"v":0.0022},{"s":"1923","n":0.501,"v":0.0021},{"s":"1923","n":0.575,"v":0.002},{"s":"1923","n":0.661,"v":0.0019},{"s":"1923","n":0.759,"v":0.0018},{"s":"1923","n":0.871,"v":0.0017},{"s":"1923","n":1,"v":0.0016},{"s":"1923","n":1.15,"v":0.0015},{"s":"1923","n":1.32,"v":0.0014},{"s":"1923","n":1.51,"v":0.0014},{"s":"1923","n":1.74,"v":0.0013},{"s":"1923","n":2,"v":0.0013},{"s":"1923","n":2.29,"v":0.0012},{"s":"1923","n":2.63,"v":0.0012},{"s":"1923","n":3.02,"v":0.0012},{"s":"1923","n":3.47,"v":0.0011},{"s":"1923","n":3.98,"v":0.0011},{"s":"1923","n":4.57,"v":0.0011},{"s":"1923","n":5.25,"v":0.0011},{"s":"1923","n":6.03,"v":0.0011},{"s":"1923","n":6.92,"v":0.0012},{"s":"1923","n":7.94,"v":0.0012}
]},
"transform":[{"lookup":"s","from":{"data":{"name":"labs"},"key":"s","fields":["lab"]}}],
"mark":{"type":"line","strokeWidth":2.5,"clip":true},
"encoding":{
"x":{"field":"n","type":"quantitative","scale":{"type":"log","domain":[0.000687,11.49],"nice":false,"zero":false},
"axis":{"values":[0.001,0.01,0.1,1,10],"format":".3f","title":"n","grid":false,"domain":false,"tickSize":11,"labelPadding":14,"titlePadding":28,"labelFlush":false,"labelOverlap":false}},
"y":{"field":"v","type":"quantitative","scale":{"type":"log","domain":[0.000193,2.065],"nice":false,"zero":false},
"axis":{"values":[0.001,0.01,0.1,1],"format":".3f","title":"nSu(n)","grid":false,"domain":false,"tickSize":11,"labelAngle":-90,"labelAlign":"center","labelBaseline":"bottom","labelPadding":14,"titlePadding":14,"labelFlush":false,"labelOverlap":false}},
"color":{"field":"lab","type":"nominal","title":null,
"scale":{"domain":["1159 , z/L= -0.9","1234 , z/L= -0.8","1308 , z/L= -0.7","1342 , z/L= -2.2","1416 , z/L= -1.5","1450 , z/L= -587.9","1524 , z/L= -0.9","1558 , z/L= -2.1","1633 , z/L= -0.1","1707 , z/L= -1","1741 , z/L= -0.7","1815 , z/L= -0.1","1849 , z/L= 0.8","1923 , z/L= 0.7"],
"range":["#000000","#1F3F7A","#8B1A55","#228B22","#F29A35","#1E7FD6","#8B5A2B","#B22222","#BFEFEF","#F4B6E6","#B4EEB4","#F5C88C","#A6D5EA","#FFF3B8"]},
"legend":{"orient":"none","legendX":400,"legendY":22,"columns":2,"symbolType":"stroke","symbolSize":1900,"symbolStrokeWidth":2.5,"symbolOffset":9,"labelOffset":20,"labelFontSize":16,"labelFont":"Liberation Sans","labelColor":"#111","strokeColor":"black","fillColor":"white","padding":10,"clipHeight":18,"rowPadding":1,"columnPadding":88,"labelLimit":400}},
"strokeDash":{"field":"lab","type":"nominal","title":null,
"scale":{"domain":["1159 , z/L= -0.9","1234 , z/L= -0.8","1308 , z/L= -0.7","1342 , z/L= -2.2","1416 , z/L= -1.5","1450 , z/L= -587.9","1524 , z/L= -0.9","1558 , z/L= -2.1","1633 , z/L= -0.1","1707 , z/L= -1","1741 , z/L= -0.7","1815 , z/L= -0.1","1849 , z/L= 0.8","1923 , z/L= 0.7"],
"range":[[1,0],[2,5],[2,5,8,5],[14,6],[4,4,12,4],[8,6],[2,4,8,4],[7,5],[1,0],[2,5],[6,4],[14,6],[8,4,2,4],[1,0]]}}
},
"config":{
"font":"Liberation Sans",
"view":{"stroke":"#111","strokeWidth":1.2},
"axis":{"labelFont":"Liberation Sans","titleFont":"Liberation Sans","labelFontSize":16,"titleFontSize":16,"titleFontWeight":"normal","labelColor":"#222","titleColor":"#222","tickColor":"#222","tickWidth":1.2}
}
}
